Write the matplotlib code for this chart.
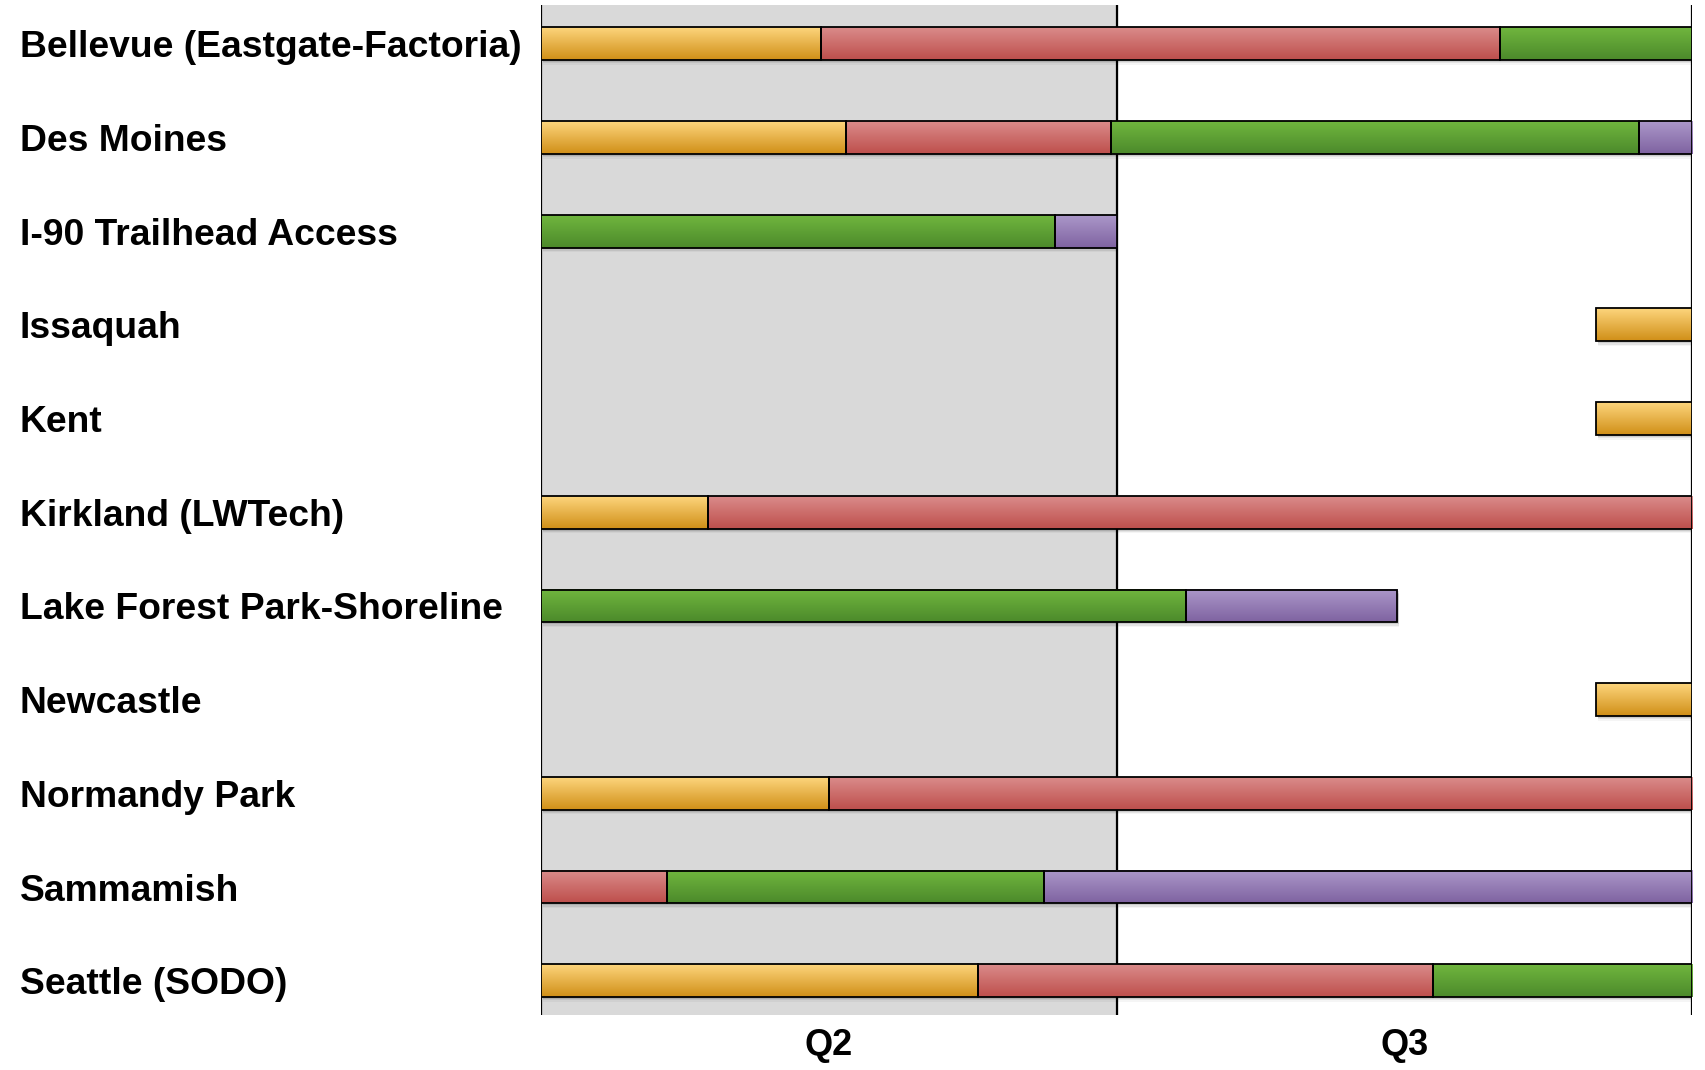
import matplotlib
matplotlib.use("Agg")
import matplotlib.pyplot as plt
from matplotlib.colors import LinearSegmentedColormap
from matplotlib.patches import Rectangle
import numpy as np

plt.rcParams['font.family'] = ['Liberation Sans', 'DejaVu Sans']

# sites, top to bottom
sites = ["Bellevue (Eastgate-Factoria)", "Des Moines", "I-90 Trailhead Access",
         "Issaquah", "Kent", "Kirkland (LWTech)", "Lake Forest Park-Shoreline",
         "Newcastle", "Normandy Park", "Sammamish", "Seattle (SODO)"]

# spans in months from start of Q2 (0..3 = Q2, 3..6 = Q3), None = no bar
orange_spans = [(0, 1.46), (0, 1.59), None, (5.5, 6), (5.5, 6), (0, 0.87),
                None, (5.5, 6), (0, 1.5), None, (0, 2.28)]
red_spans = [(1.46, 5.0), (1.59, 2.97), None, None, None, (0.87, 6),
             None, None, (1.5, 6), (0, 0.66), (2.28, 4.65)]
green_spans = [(5.0, 6), (2.97, 5.72), (0, 2.68), None, None, None,
               (0, 3.36), None, None, (0.66, 2.62), (4.65, 6)]
purple_spans = [None, (5.72, 6), (2.68, 3.0), None, None, None,
                (3.36, 4.46), None, None, (2.62, 6), None]

quarters = ["Q2", "Q3"]

# (top colour, bottom colour) for each phase gradient
phase_colors = [("#fdd57c", "#d08f18"), ("#da8b8a", "#be4f4c"),
                ("#70b63e", "#4c8a2b"), ("#ab97c9", "#7f63a1")]
phase_spans = [orange_spans, red_spans, green_spans, purple_spans]

fig = plt.figure(figsize=(17.06, 10.70), dpi=100)
ax = fig.add_axes([0.317, 0.051, 0.675, 0.944])

n = len(sites)
ypos = np.arange(n)[::-1]
h = 0.35

ax.axvspan(0, 3, color="#d9d9d9", zorder=0)
for xv in [0, 3, 6]:
    ax.axvline(xv, color="black", lw=1.6, zorder=1)

grad = np.linspace(0, 1, 64).reshape(-1, 1)
for spans, (c_top, c_bot) in zip(phase_spans, phase_colors):
    cmap = LinearSegmentedColormap.from_list("g", [c_top, c_bot])
    for y, span in zip(ypos, spans):
        if span is None:
            continue
        x0, x1 = span
        # soft shadow under the bar
        for k, a in enumerate([0.10, 0.07, 0.04]):
            off = 0.02 + k * 0.015
            ax.add_patch(Rectangle((x0 + 0.01, y - h / 2 - off), x1 - x0, h,
                                   facecolor="black", edgecolor="none",
                                   alpha=a, zorder=2))
        ax.imshow(grad, cmap=cmap, aspect="auto", origin="upper",
                  extent=(x0, x1, y - h / 2, y + h / 2), zorder=3,
                  interpolation="bilinear")
        ax.add_patch(Rectangle((x0, y - h / 2), x1 - x0, h, facecolor="none",
                               edgecolor="black", lw=1.3, zorder=4))

ax.set_xlim(0, 6.0)
ax.set_ylim(-0.37, n - 1 + 0.41)

ax.set_xticks([1.5, 4.5])
ax.set_xticklabels(quarters, fontsize=26, fontweight="bold")
ax.set_yticks(ypos)
ax.set_yticklabels(sites, fontsize=26.8, fontweight="bold")
for lab in ax.get_yticklabels():
    lab.set_horizontalalignment("left")
ax.tick_params(axis="y", length=0, pad=375)
ax.tick_params(axis="x", length=0, pad=9)
for s in ax.spines.values():
    s.set_visible(False)

fig.savefig("out.png", dpi=100)
